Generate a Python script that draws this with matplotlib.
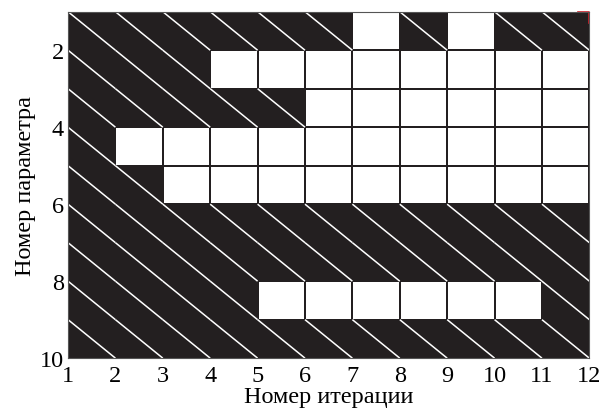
import matplotlib.pyplot as plt
import numpy as np
from matplotlib.colors import ListedColormap
from matplotlib.collections import LineCollection

plt.rcParams['font.family'] = ['Liberation Serif', 'DejaVu Serif']

# iteration / parameter grid edges
iterations = list(range(1, 13))
params = list(range(1, 11))

# 1 = parameter active (white cell), 0 = inactive (hatched black cell)
row1 = [0, 0, 0, 0, 0, 0, 1, 0, 1, 0, 0]
row2 = [0, 0, 0, 1, 1, 1, 1, 1, 1, 1, 1]
row3 = [0, 0, 0, 0, 0, 1, 1, 1, 1, 1, 1]
row4 = [0, 1, 1, 1, 1, 1, 1, 1, 1, 1, 1]
row5 = [0, 0, 1, 1, 1, 1, 1, 1, 1, 1, 1]
row6 = [0, 0, 0, 0, 0, 0, 0, 0, 0, 0, 0]
row7 = [0, 0, 0, 0, 0, 0, 0, 0, 0, 0, 0]
row8 = [0, 0, 0, 0, 1, 1, 1, 1, 1, 1, 0]
row9 = [0, 0, 0, 0, 0, 0, 0, 0, 0, 0, 0]

x_ticks = [1, 2, 3, 4, 5, 6, 7, 8, 9, 10, 11, 12]
y_ticks = [2, 4, 6, 8, 10]

state = np.array([row1, row2, row3, row4, row5, row6, row7, row8, row9])
black = '#231f20'

fig = plt.figure(figsize=(6.02, 4.10), dpi=100)
ax = fig.add_axes([0.113, 0.124, 0.866, 0.845])

ax.pcolormesh(iterations, params, state, cmap=ListedColormap([black, 'white']),
              vmin=0, vmax=1, edgecolors=black, linewidth=1.2)

# white diagonal in every inactive cell
segs = []
for j, row in enumerate(state):
    for i, v in enumerate(row):
        if v == 0:
            segs.append([(iterations[i], params[j]), (iterations[i + 1], params[j + 1])])
ax.add_collection(LineCollection(segs, colors='white', linewidths=1.1))

ax.set_xlim(iterations[0], iterations[-1])
ax.set_ylim(params[-1], params[0])
ax.set_xticks(x_ticks)
ax.set_yticks(y_ticks)
ax.tick_params(length=0, labelsize=17.5)
ax.tick_params(axis='x', pad=5)
ax.tick_params(axis='y', pad=3)
for s in ax.spines.values():
    s.set_color('#555555')
    s.set_linewidth(0.8)

ax.plot([0.979, 1.0, 1.0], [1.0, 1.0, 0.966], color='#d0202a', lw=1.2,
        transform=ax.transAxes, clip_on=False)

ax.set_xlabel('Номер итерации', fontsize=17.5, labelpad=0)
ax.set_ylabel('Номер параметра', fontsize=17.5, labelpad=3)

fig.savefig('out.png', dpi=100)
